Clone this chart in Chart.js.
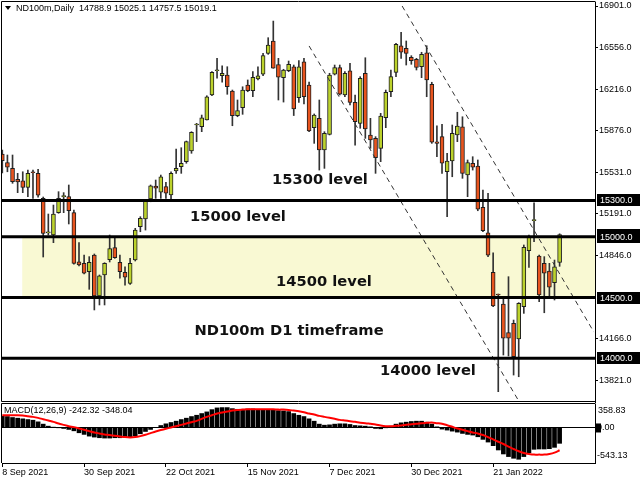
<!DOCTYPE html>
<html>
<head>
<meta charset="utf-8">
<script src="https://cdn.jsdelivr.net/npm/chart.js@4.4.1/dist/chart.umd.min.js"></script>
<style>
  html, body { margin: 0; padding: 0; background: #fff; }
  #wrap { position: relative; width: 640px; height: 480px; overflow: hidden; background: #fff; }
  #main { position: absolute; left: 0; top: 0; }
  #macd { position: absolute; left: 0; top: 403px; }
</style>
</head>
<body>
<div id="wrap">
  <canvas id="main" width="640" height="403"></canvas>
  <canvas id="macd" width="640" height="77"></canvas>
</div>
<script>
/* ============================================================
   DATA (daily candles, ND100m, 8 Sep 2021 -> 9 Feb 2022)
   ============================================================ */
const opens = [15682,15611,15564,15474,15462,15408,15531,15523,15317,15032,
  15015,15199,15331,15331,15199,14795,14782,14713,14850,14513,
  14686,14813,14911,14790,14708,14617,14809,15084,15147,15312,
  15419,15367,15413,15345,15542,15578,15619,15707,15921,15907,
  15962,16168,16368,16327,16333,16201,15998,16063,16250,16203,
  16300,16339,16511,16613,16418,16311,16368,16401,16146,16442,
  16250,15899,15976,15715,15844,16339,16393,16168,16368,16108,
  15935,16347,15839,15811,15729,15981,16195,16355,16574,16553,
  16479,16462,16401,16516,16256,15783,15825,15536,15625,15839,
  15907,15509,15606,15583,15243,15034,14708,14527,14447,14211,
  14288,14159,14425,14886,15133,14842,14782,14719,14623,14788.9];

const highs = [15715,15674,15674,15523,15536,15550,15550,15556,15328,15188,
  15262,15372,15364,15427,15221,14952,14850,14837,14859,14686,
  14787,15015,14988,14850,14754,14823,15070,15166,15303,15427,
  15468,15509,15449,15536,15723,15734,15789,15866,15935,16003,
  16162,16360,16470,16409,16401,16209,16127,16236,16292,16360,
  16401,16511,16640,16777,16470,16380,16448,16415,16452,16470,
  16275,16012,16127,15866,16347,16415,16415,16360,16429,16168,
  16319,16475,15976,15825,16017,16209,16374,16594,16684,16613,
  16492,16470,16520,16574,16273,15915,15927,15688,15921,16026,
  15989,15633,15660,15633,15386,15359,14869,14529,14486,14672,
  14315,14458,14933,15015,15281,14850,14837,14782,14809,15025.1];

const lows = [15526,15536,15441,15364,15364,15331,15317,15326,14834,15015,
  14952,15194,15199,15106,14776,14760,14694,14568,14398,14439,
  14439,14793,14823,14659,14603,14609,14801,15042,15056,15289,
  15317,15317,15317,15312,15523,15523,15606,15688,15784,15866,
  15962,16162,16306,16273,16174,15915,15989,16009,16195,16154,
  16292,16327,16503,16388,16127,16110,16360,15999,16108,16094,
  15866,15770,15550,15564,15839,16333,16168,16154,16086,15756,
  15894,15811,15729,15523,15619,15899,16154,16319,16470,16415,
  16421,16374,16311,16154,15770,15660,15523,15166,15495,15784,
  15482,15331,15550,15215,15042,14836,14425,13725,14027,14019,
  13862,13848,14370,14749,14960,14466,14375,14513,14480,14757.5];

const closes = [15627,15573,15454,15452,15408,15523,15528,15344,15029,15042,
  15188,15317,15336,15215,14782,14768,14700,14790,14513,14678,
  14782,14904,14828,14713,14667,14782,15056,15153,15295,15421,
  15400,15495,15359,15523,15564,15606,15784,15861,15923,15981,
  16154,16355,16372,16347,16236,15998,16039,16209,16203,16314,
  16327,16492,16580,16390,16316,16374,16421,16053,16401,16154,
  15872,16003,15715,15853,16333,16393,16174,16347,16108,15948,
  16306,15888,15798,15652,15995,16190,16319,16586,16520,16511,
  16451,16396,16503,16292,15779,15770,15606,15625,15853,15913,
  15523,15611,15573,15227,15050,14850,14431,14521,14165,14165,
  14013,14453,14914,14996,15136,14521,14700,14585,14754,15019.1];

// MACD(12,26,9): main (histogram) and signal (red line)
const macdMain = [172,167,152,142,132,121,111,86,51,20,
  5,-5,-15,-30,-51,-81,-106,-132,-147,-157,
  -162,-162,-157,-157,-152,-147,-127,-96,-61,-30,
  0,30,56,76,96,121,142,167,187,213,
  238,273,299,304,304,288,278,278,283,283,
  278,278,273,268,258,253,243,213,187,167,
  132,96,51,35,40,51,56,56,46,30,
  25,20,10,-15,-20,-5,20,51,71,81,
  91,96,96,81,51,10,-25,-40,-56,-71,
  -91,-106,-116,-142,-182,-223,-278,-344,-405,-445,
  -471,-486,-445,-385,-334,-329,-329,-324,-304,-242.32];

const macdSignal = [187,187,187,187,182,172,162,147,127,106,
  86,61,40,20,5,-15,-35,-56,-76,-91,
  -106,-116,-127,-137,-147,-152,-147,-132,-111,-86,
  -61,-40,-20,0,20,40,61,81,101,132,
  162,187,213,228,243,258,268,273,278,278,
  278,278,278,278,273,273,268,258,248,233,
  213,197,177,162,147,132,116,106,96,86,
  71,66,56,46,30,20,20,25,30,40,
  51,56,66,71,76,66,56,35,10,-15,
  -35,-56,-76,-91,-116,-147,-182,-218,-253,-293,
  -329,-364,-390,-405,-415,-415,-415,-405,-385,-348.04];

// axis labels
const priceTicks = [16901, 16556, 16216, 15876, 15531, 15191, 14846, 14166, 13821];
const dateTickBars = [0, 16, 32, 48, 64, 80, 96];
const dateLabels = ["8 Sep 2021", "30 Sep 2021", "22 Oct 2021", "15 Nov 2021",
                    "7 Dec 2021", "30 Dec 2021", "21 Jan 2022"];
const macdTicks = [358.83, 0, -543.13];

// drawn objects: horizontal levels, zone, trend channel (bar index, price)
const levels = [15300, 15000, 14500, 14000];
const lastPrice = 15019.1;
const zonePrices = [14500, 15000];
const zoneStartBar = 3.9;
const trendA = [[60.0, 16572], [100.9, 13656]];
const trendB = [[78.2, 16901], [115.7, 14216]];

/* ============================================================
   STYLE
   ============================================================ */
const BULL = "#bcd22c";
const BEAR = "#e8541e";
const ZONE = "#f9f9d3";
const X_MIN = -0.06, X_MAX = 115.92;

Chart.defaults.font.family = "'Liberation Sans', Arial, sans-serif";
Chart.defaults.font.size = 9;
Chart.defaults.color = "#000";

/* ============================================================
   MAIN PRICE CHART
   ============================================================ */
const mainOverlay = {
    id: "mainOverlay",
    beforeDatasetsDraw(chart) {
        const { ctx, chartArea } = chart;
        const x = chart.scales.x, y = chart.scales.y;
        const x0 = x.getPixelForValue(zoneStartBar);
        const yTop = y.getPixelForValue(zonePrices[1]);
        const yBot = y.getPixelForValue(zonePrices[0]);
        ctx.save();
        ctx.fillStyle = ZONE;
        ctx.fillRect(x0, yTop, chartArea.right - x0, yBot - yTop);
        ctx.restore();
    },
    afterDatasetsDraw(chart) {
        const ctx = chart.ctx;
        const notes = [
            ["15300 level", 320, 180],
            ["15000 level", 238, 217],
            ["14500 level", 324, 282],
            ["ND100m D1 timeframe", 289, 331],
            ["14000 level", 428, 371]
        ];
        ctx.save();
        ctx.font = "bold 14.7px 'DejaVu Sans', sans-serif";
        ctx.fillStyle = "#111";
        ctx.textAlign = "center";
        ctx.textBaseline = "middle";
        notes.forEach(n => ctx.fillText(n[0], n[1], n[2]));
        ctx.restore();
    },
    afterDraw(chart) {
        const { ctx, chartArea } = chart;
        const y = chart.scales.y;
        ctx.save();

        // frame
        ctx.strokeStyle = "#000";
        ctx.lineWidth = 1;
        ctx.beginPath();
        ctx.moveTo(1.5, 401.5);
        ctx.lineTo(1.5, 1.5);
        ctx.lineTo(chartArea.right + 0.5, 1.5);
        ctx.moveTo(1.5, 401.5);
        ctx.lineTo(chartArea.right + 0.5, 401.5);
        ctx.stroke();

        // price boxes on the axis
        ctx.font = "9px 'Liberation Sans', Arial, sans-serif";
        ctx.textBaseline = "middle";
        [lastPrice].concat(levels).forEach(v => {
            const py = Math.round(y.getPixelForValue(v));
            ctx.fillStyle = "#000";
            ctx.fillRect(597, py - 6, 43, 12);
            ctx.fillStyle = "#fff";
            ctx.fillText(v.toFixed(1), 600, py + 0.5);
        });

        // title
        ctx.fillStyle = "#000";
        ctx.beginPath();
        ctx.moveTo(5, 6);
        ctx.lineTo(11, 6);
        ctx.lineTo(8, 10);
        ctx.closePath();
        ctx.fill();
        ctx.fillText("ND100m,Daily  14788.9 15025.1 14757.5 15019.1", 16, 9);
        ctx.restore();
    }
};

new Chart(document.getElementById("main"), {
    type: "bar",
    data: {
        datasets: [
            {
                label: "body",
                data: opens.map((o, i) => ({ x: i, y: [o, closes[i]] })),
                backgroundColor: opens.map((o, i) => closes[i] >= o ? BULL : BEAR),
                borderColor: "#1e1e1e",
                borderWidth: 1,
                borderSkipped: false,
                barThickness: 4,
                minBarLength: 1,
                grouped: false,
                order: 2
            },
            {
                label: "wick",
                data: highs.map((h, i) => ({ x: i, y: [lows[i], h] })),
                backgroundColor: "#333",
                barThickness: 1,
                grouped: false,
                order: 3
            },
            ...[trendA, trendB].map(t => ({
                type: "line",
                data: t.map(p => ({ x: p[0], y: p[1] })),
                borderColor: "#333",
                borderWidth: 1,
                borderDash: [5, 4],
                pointRadius: 0,
                order: 1
            })),
            ...levels.map(v => ({
                type: "line",
                data: [{ x: X_MIN, y: v }, { x: X_MAX, y: v }],
                borderColor: "#000",
                borderWidth: 3,
                pointRadius: 0,
                order: 0
            }))
        ]
    },
    options: {
        responsive: false,
        animation: false,
        layout: { padding: { left: 2, top: 2, right: 0, bottom: 1 } },
        plugins: { legend: { display: false }, tooltip: { enabled: false } },
        scales: {
            x: {
                type: "linear", min: X_MIN, max: X_MAX, offset: false, display: false,
                grid: { offset: false }
            },
            y: {
                position: "right", min: 13640, max: 16934,
                afterBuildTicks: s => { s.ticks = priceTicks.map(v => ({ value: v })); },
                afterFit: s => { s.width = 45; s.paddingTop = 0; s.paddingBottom = 0; },
                ticks: { callback: v => v.toFixed(1), padding: 1, color: "#000" },
                grid: { drawOnChartArea: false, tickLength: 3, color: "#000" },
                border: { display: true, color: "#000" }
            }
        }
    },
    plugins: [mainOverlay]
});

/* ============================================================
   MACD SUB-WINDOW
   ============================================================ */
const macdOverlay = {
    id: "macdOverlay",
    beforeDatasetsDraw(chart) {
        const { ctx, chartArea } = chart;
        const zy = Math.round(chart.scales.y.getPixelForValue(0)) + 0.5;
        ctx.save();
        ctx.strokeStyle = "#000";
        ctx.lineWidth = 1;
        ctx.beginPath();
        ctx.moveTo(chartArea.left, zy);
        ctx.lineTo(chartArea.right, zy);
        ctx.stroke();
        ctx.restore();
    },
    afterDraw(chart) {
        const { ctx, chartArea } = chart;
        const y = chart.scales.y;
        ctx.save();
        ctx.strokeStyle = "#000";
        ctx.lineWidth = 1;
        ctx.beginPath();
        ctx.moveTo(1.5, chartArea.bottom);
        ctx.lineTo(1.5, 0.5);
        ctx.lineTo(chartArea.right + 0.5, 0.5);
        ctx.stroke();

        ctx.font = "9px 'Liberation Sans', Arial, sans-serif";
        ctx.textBaseline = "middle";
        ctx.fillStyle = "#000";
        ctx.fillText("MACD(12,26,9) -242.32 -348.04", 4, 8);

        // axis values (kept inside the pane like MT4 does)
        ctx.fillText(macdTicks[0].toFixed(2), 598, y.getPixelForValue(macdTicks[0]) + 7);
        ctx.fillText(macdTicks[2].toFixed(2), 597, y.getPixelForValue(macdTicks[2]) - 7);
        const zy = y.getPixelForValue(0);
        ctx.fillRect(596, zy - 4, 5, 9);
        ctx.fillText("0.00", 597, zy + 0.5);
        ctx.restore();
    }
};

new Chart(document.getElementById("macd"), {
    type: "bar",
    data: {
        datasets: [
            {
                label: "MACD",
                data: macdMain.map((v, i) => ({ x: i, y: v })),
                backgroundColor: "#000",
                barThickness: 4,
                grouped: false,
                order: 2
            },
            {
                type: "line",
                label: "Signal",
                data: macdSignal.map((v, i) => ({ x: i, y: v })),
                borderColor: "#ff0000",
                borderWidth: 2,
                pointRadius: 0,
                tension: 0.3,
                order: 1
            }
        ]
    },
    options: {
        responsive: false,
        animation: false,
        layout: { padding: { left: 2, top: 1, right: 0, bottom: 0 } },
        plugins: { legend: { display: false }, tooltip: { enabled: false } },
        scales: {
            x: {
                type: "linear", min: X_MIN, max: X_MAX, offset: false, position: "bottom",
                afterBuildTicks: s => { s.ticks = dateTickBars.map(v => ({ value: v })); },
                afterFit: s => { s.height = 17; s.paddingLeft = 0; s.paddingRight = 0; },
                ticks: {
                    align: "start", maxRotation: 0, autoSkip: false, padding: 0, color: "#000",
                    callback: v => dateLabels[dateTickBars.indexOf(v)]
                },
                grid: { drawOnChartArea: false, tickLength: 4, color: "#000", offset: false },
                border: { display: true, color: "#000" }
            },
            y: {
                position: "right", min: macdTicks[2], max: macdTicks[0],
                afterFit: s => { s.width = 45; s.paddingTop = 0; s.paddingBottom = 0; },
                ticks: { display: false },
                grid: { display: false },
                border: { display: true, color: "#000" }
            }
        }
    },
    plugins: [macdOverlay]
});
</script>
</body>
</html>
